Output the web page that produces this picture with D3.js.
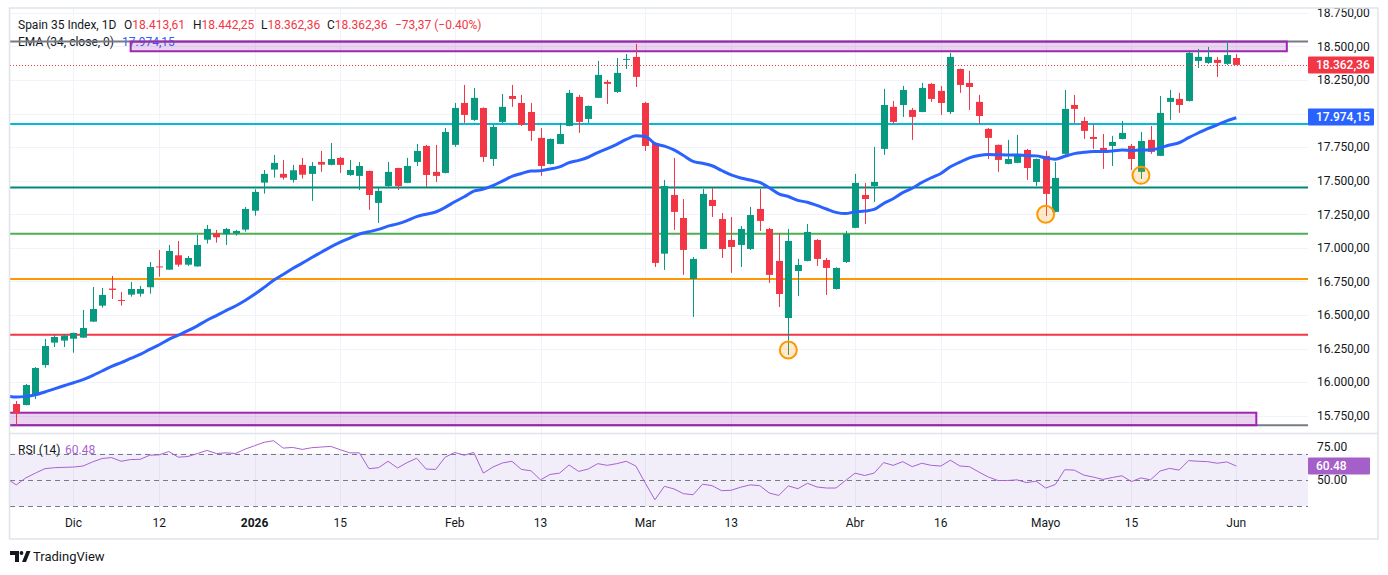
<!DOCTYPE html>
<html>
<head>
<meta charset="utf-8">
<script src="https://cdn.jsdelivr.net/npm/d3@7"></script>
<style>
  body { margin: 0; background: #fff; }
  svg { display: block; font-family: Roboto, "Liberation Sans", sans-serif; }
</style>
</head>
<body>
<svg id="chart"></svg>
<script>
// Spain 35 Index, daily candles (bar 0 = 21 Nov ... bar 128 = 1 Jun)
const opens = [15838,15830,15905,16128,16295,16310,16324,16332,16451,16570,
  16697,16612,16652,16659,16707,16862,16838,16945,16875,16862,
  17061,17109,17102,17106,17136,17277,17486,17583,17551,17506,
  17618,17551,17640,17618,17670,17543,17536,17573,17335,17461,
  17595,17484,17640,17759,17566,17558,17767,18079,17953,18042,
  17662,17938,18131,18079,18012,17819,17625,17774,17908,18124,
  17960,18117,18236,18161,18400,18422,18079,17781,16957,17394,
  17223,16769,16992,17357,17215,17059,17022,16992,17290,17141,
  16903,16478,16828,16903,17059,16910,16694,16895,17149,17394,
  17461,17737,18050,18064,18027,18012,18221,18169,18012,18332,
  18228,18087,17886,17767,17625,17633,17729,17491,17685,17268,
  17700,18064,17945,17826,17744,17759,17811,17759,17566,17804,
  17685,18087,18109,18094,18392,18377,18400,18370,18413.61];
const highs = [15860,15987,16113,16322,16352,16357,16369,16538,16709,16702,
  16791,16672,16746,16717,16895,16985,17022,17052,16940,17096,
  17171,17134,17149,17134,17305,17437,17580,17692,17655,17618,
  17670,17640,17722,17781,17677,17655,17640,17575,17446,17640,
  17597,17670,17774,17767,17767,17893,18079,18213,18191,18045,
  17916,18146,18213,18139,18079,17893,17815,17930,18176,18139,
  18060,18392,18251,18414,18444,18519,18087,17785,17506,17670,
  17364,16932,17439,17446,17260,17230,17163,17305,17439,17149,
  17111,17141,16918,17178,17066,16925,16855,17126,17551,17484,
  17752,18184,18094,18206,18042,18228,18228,18206,18452,18335,
  18318,18139,17893,17770,17804,17841,17737,17665,17722,17640,
  18176,18139,17975,17916,17848,17834,17945,17774,17863,17908,
  18131,18176,18154,18459,18481,18496,18422,18541,18442.25];
const lows = [15681,15828,15875,16108,16262,16262,16220,16330,16449,16555,
  16620,16570,16637,16637,16659,16786,16836,16860,16866,16860,
  17032,17039,17022,17091,17121,17240,17404,17523,17508,17486,
  17516,17350,17566,17615,17558,17536,17431,17283,17186,17454,
  17431,17482,17610,17454,17491,17555,17752,17930,17945,17640,
  17610,17930,18050,17908,17796,17536,17620,17772,17905,17856,
  17930,18115,18072,18154,18332,18198,17722,16858,16836,17134,
  16799,16486,16990,17230,16925,16814,16858,16985,17126,16739,
  16560,16203,16642,16900,16866,16650,16690,16888,17147,17178,
  17342,17692,17923,17975,17804,18010,18087,17990,17997,18154,
  18027,17923,17662,17566,17622,17630,17506,17461,17238,17265,
  17685,17930,17811,17737,17588,17610,17808,17580,17513,17700,
  17683,17953,18005,18090,18340,18370,18273,18362,18362.36];
const closes = [15768,15979,16106,16270,16337,16347,16367,16404,16545,16650,
  16687,16605,16694,16694,16858,16855,16977,16875,16925,17022,
  17141,17079,17141,17126,17290,17417,17551,17633,17523,17578,
  17545,17610,17620,17662,17618,17580,17610,17394,17424,17566,
  17461,17610,17722,17543,17536,17863,18042,17990,18117,17677,
  17901,18050,18109,17916,17871,17610,17811,17848,18154,17938,
  18057,18288,18221,18303,18407,18273,17759,16888,17461,17268,
  16985,16918,17402,17312,16992,17007,17141,17245,17201,16799,
  16657,17052,16873,17119,16918,16851,16851,17104,17484,17364,
  17491,18064,17938,18176,17975,18191,18109,18079,18422,18213,
  18198,17982,17819,17655,17662,17700,17595,17662,17402,17521,
  18035,18035,17871,17811,17722,17789,17856,17662,17796,17715,
  18005,18117,18064,18452,18422,18422,18377,18435.73,18362.36];

// RSI(14) values read per bar, plus the value of the hidden bar just left of bar 0
const rsiPrev = 50.8;
const rsi = [46.2,51.5,55.1,58.5,59.2,59.5,59.7,60.5,63.6,66.2,
  66.9,64.1,65.4,65.6,68.7,69.0,71.5,67.2,67.7,70.0,
  72.3,70.0,70.5,70.0,73.3,75.9,78.5,79.7,74.1,74.6,
  73.1,74.4,74.9,75.4,72.8,70.5,70.5,58.5,59.2,64.1,
  59.0,63.1,66.4,58.2,57.9,67.2,70.8,68.7,70.8,55.1,
  59.7,62.8,64.1,57.9,56.9,50.0,54.1,55.1,61.3,56.4,
  58.2,62.3,61.0,62.3,64.1,60.5,47.4,34.9,45.1,43.1,
  39.5,38.7,46.7,45.6,41.8,42.1,44.4,46.2,45.6,40.0,
  38.2,45.4,43.3,47.4,44.6,43.8,43.8,49.5,55.1,53.3,
  55.1,63.1,61.0,63.8,60.0,62.6,61.0,60.5,64.9,60.5,
  60.0,55.9,52.1,49.5,49.5,50.0,47.9,49.0,43.8,46.4,
  57.7,57.4,53.6,52.1,50.3,51.8,53.1,48.7,51.5,50.0,
  56.7,58.7,57.4,64.6,64.1,63.8,62.6,63.6,60.48];

// EMA(34, close): value on the hidden bar just before bar 0, and last printed value
const emaSeed = 15897;
const emaLast = 17974.15;

// drawn levels
const levelPrices = [17923, 17449, 17106, 16769, 16354];
const levelColors = ["#00bcd4", "#00897b", "#4caf50", "#ff9800", "#f23645"];
const grayLinePrices = [18536, 15680];
// zones: price top / bottom, first bar, last bar
const zoneTops = [18536, 15773];
const zoneBottoms = [18464, 15680];
const zoneStartBar = [12, -1];
const zoneEndBar = [133.3, 130.1];
// circled lows
const markBars = [81, 108, 118];
const markPrices = [16240, 17250, 17540];

const priceTicks = [15750,16000,16250,16500,16750,17000,17250,17500,17750,18000,18250,18500,18750];
const rsiTicks = [75, 50];
const rsiLevels = [70, 50, 30];
const timeTickBars = [6, 15, 25, 34, 46, 55, 66, 75, 88, 97, 108, 117, 128];
const timeTickLabels = ["Dic","12","2026","15","Feb","13","Mar","13","Abr","16","Mayo","15","Jun"];

const W = 1388, H = 575;
const pL = 10, pR = 1308, pT = 8, mainBottom = 433, rsiTop = 434, rsiBottom = 512, frameBottom = 539;

const svg = d3.select("#chart").attr("width", W).attr("height", H);
const loc = d3.formatLocale({decimal: ",", thousands: ".", grouping: [3], currency: ["", ""]});
const fmt = loc.format(",.2f");

const x = d3.scaleLinear().domain([0, 128]).range([16.3, 1236.3]);
const y = d3.scaleLinear().domain([15622, 18786]).range([mainBottom, pT]);
const yr = d3.scaleLinear().domain([25.6, 84.8]).range([rsiBottom, rsiTop]);

const defs = svg.append("defs");
defs.append("clipPath").attr("id", "clipMain").append("rect")
  .attr("x", pL).attr("y", pT).attr("width", pR - pL).attr("height", mainBottom - pT);
defs.append("clipPath").attr("id", "clipRsi").append("rect")
  .attr("x", pL).attr("y", rsiTop).attr("width", pR - pL).attr("height", rsiBottom - rsiTop);

// grid
const grid = svg.append("g").attr("stroke", "#f0f3fa").attr("stroke-width", 1);
grid.selectAll("line.h").data(priceTicks).enter().append("line")
  .attr("x1", pL).attr("x2", pR)
  .attr("y1", d => Math.round(y(d)) + 0.5).attr("y2", d => Math.round(y(d)) + 0.5);
grid.selectAll("line.v").data(timeTickBars).enter().append("line")
  .attr("x1", d => Math.round(x(d)) + 0.5).attr("x2", d => Math.round(x(d)) + 0.5)
  .attr("y1", pT).attr("y2", rsiBottom);

// legend (under the drawings)
const legend = svg.append("g").attr("font-size", 12).attr("fill", "#131722");
legend.append("text").attr("x", 18).attr("y", 29).text("Spain 35 Index, 1D");
const last = closes.length - 1;
const chg = closes[last] - closes[last - 1];
const ohlc = [["O", opens[last], 124], ["H", highs[last], 193], ["L", lows[last], 261], ["C", closes[last], 327]];
ohlc.forEach(d => {
  const t = legend.append("text").attr("x", d[2]).attr("y", 29);
  t.append("tspan").text(d[0]);
  t.append("tspan").attr("fill", "#f23645").text(fmt(d[1]));
});
legend.append("text").attr("x", 395).attr("y", 29).attr("fill", "#f23645")
  .text(fmt(chg).replace("-", "−") + " (" + (chg / closes[last - 1] * 100).toFixed(2).replace("-", "−") + "%)");
legend.append("text").attr("x", 18).attr("y", 46).text("EMA (34, close, 0)");
legend.append("text").attr("x", 122).attr("y", 46).attr("fill", "#2962ff").text(fmt(emaLast));

const main = svg.append("g").attr("clip-path", "url(#clipMain)");

// gray horizontal lines
main.selectAll("line.gray").data(grayLinePrices).enter().append("line")
  .attr("x1", pL).attr("x2", pR)
  .attr("y1", d => y(d)).attr("y2", d => y(d))
  .attr("stroke", "#787b86").attr("stroke-width", 2);

// colored levels
main.selectAll("line.level").data(levelPrices).enter().append("line")
  .attr("x1", pL).attr("x2", pR)
  .attr("y1", d => y(d)).attr("y2", d => y(d))
  .attr("stroke", (d, i) => levelColors[i]).attr("stroke-width", 2);

// zones
main.selectAll("rect.zone").data(zoneTops).enter().append("rect")
  .attr("x", (d, i) => x(zoneStartBar[i]))
  .attr("y", d => y(d))
  .attr("width", (d, i) => x(zoneEndBar[i]) - x(zoneStartBar[i]))
  .attr("height", (d, i) => y(zoneBottoms[i]) - y(d))
  .attr("fill", "rgba(156,39,176,0.2)")
  .attr("stroke", "#9c27b0").attr("stroke-width", 2);

// candles
const candles = main.append("g").selectAll("g").data(closes).enter().append("g")
  .attr("fill", (d, i) => d >= opens[i] ? "#089981" : "#f23645")
  .attr("stroke", (d, i) => d >= opens[i] ? "#089981" : "#f23645");
candles.append("line")
  .attr("x1", (d, i) => Math.round(x(i)) + 0.5).attr("x2", (d, i) => Math.round(x(i)) + 0.5)
  .attr("y1", (d, i) => y(highs[i])).attr("y2", (d, i) => y(lows[i]))
  .attr("stroke-width", 1);
candles.append("rect")
  .attr("x", (d, i) => Math.round(x(i)) - 3)
  .attr("width", 7)
  .attr("y", (d, i) => y(Math.max(d, opens[i])))
  .attr("height", (d, i) => Math.max(1, Math.abs(y(d) - y(opens[i]))))
  .attr("stroke", "none");

// EMA(34), starting from the hidden bar -1
const k = 2 / 35;
let e = emaSeed;
const ema = [emaSeed].concat(closes.map(c => (e = e + k * (c - e))));
main.append("path").datum(ema)
  .attr("fill", "none").attr("stroke", "#2962ff").attr("stroke-width", 3)
  .attr("stroke-linejoin", "round")
  .attr("d", d3.line().x((d, i) => x(i - 1)).y(d => y(d)).curve(d3.curveMonotoneX));

// last price dotted line
main.append("line")
  .attr("x1", pL).attr("x2", pR)
  .attr("y1", Math.round(y(closes[last])) + 0.5).attr("y2", Math.round(y(closes[last])) + 0.5)
  .attr("stroke", "#f23645").attr("stroke-width", 1).attr("stroke-dasharray", "1,2");

// circled lows
main.selectAll("circle.mark").data(markBars).enter().append("circle")
  .attr("cx", d => x(d)).attr("cy", (d, i) => y(markPrices[i]))
  .attr("r", 8.5)
  .attr("fill", "rgba(255,152,0,0.2)").attr("stroke", "#ff9800").attr("stroke-width", 2);

// price axis
const axisG = svg.append("g").attr("font-size", 12).attr("fill", "#131722");
axisG.selectAll("text").data(priceTicks.filter(d => y(d) > 10)).enter().append("text")
  .attr("x", 1317).attr("y", d => y(d)).attr("dy", "0.35em").text(d => fmt(d));

function priceTag(color, label, yPos) {
  svg.append("rect").attr("x", 1308).attr("y", yPos - 8.5).attr("width", 66).attr("height", 17)
    .attr("rx", 1).attr("fill", color);
  svg.append("text").attr("x", 1316).attr("y", yPos).attr("dy", "0.35em")
    .attr("font-size", 12).attr("fill", "#fff").attr("font-weight", 500).text(label);
}
priceTag("#f23645", fmt(closes[last]), y(closes[last]));
priceTag("#2962ff", fmt(emaLast), y(emaLast));

// RSI pane
const rsiG = svg.append("g").attr("clip-path", "url(#clipRsi)");
rsiG.append("rect").attr("x", pL).attr("width", pR - pL)
  .attr("y", yr(70)).attr("height", yr(30) - yr(70))
  .attr("fill", "rgba(126,87,194,0.1)");
rsiG.selectAll("line.rl").data(rsiLevels).enter().append("line")
  .attr("x1", pL).attr("x2", pR)
  .attr("y1", d => Math.round(yr(d)) + 0.5).attr("y2", d => Math.round(yr(d)) + 0.5)
  .attr("stroke", "#787b86").attr("stroke-width", 1).attr("stroke-dasharray", "5,4");
rsiG.append("path").datum([rsiPrev].concat(rsi))
  .attr("fill", "none").attr("stroke", "#a862d3").attr("stroke-width", 1)
  .attr("d", d3.line().x((d, i) => x(i - 1)).y(d => yr(d)));

svg.append("text").attr("x", 18).attr("y", 454).attr("font-size", 12).attr("fill", "#131722").text("RSI (14)");
svg.append("text").attr("x", 65).attr("y", 454).attr("font-size", 12).attr("fill", "#a862d3").text(rsi[last].toFixed(2));

svg.append("g").attr("font-size", 12).attr("fill", "#131722")
  .selectAll("text").data(rsiTicks).enter().append("text")
  .attr("x", 1317).attr("y", d => yr(d)).attr("dy", "0.35em").text(d => d.toFixed(2));
svg.append("rect").attr("x", 1308).attr("y", yr(rsi[last]) - 8.5).attr("width", 62).attr("height", 17)
  .attr("rx", 1).attr("fill", "#a55fc9");
svg.append("text").attr("x", 1316).attr("y", yr(rsi[last])).attr("dy", "0.35em")
  .attr("font-size", 12).attr("fill", "#fff").attr("font-weight", 500).text(rsi[last].toFixed(2));

// time axis
svg.append("g").attr("font-size", 12).attr("fill", "#131722").attr("text-anchor", "middle")
  .selectAll("text").data(timeTickBars).enter().append("text")
  .attr("x", d => x(d)).attr("y", 527)
  .attr("font-weight", (d, i) => timeTickLabels[i] === "2026" ? 700 : 400)
  .text((d, i) => timeTickLabels[i]);

// frame and pane separator
svg.append("line").attr("x1", pL).attr("x2", 1378).attr("y1", 433.5).attr("y2", 433.5)
  .attr("stroke", "#e0e3eb").attr("stroke-width", 1.5);
svg.append("rect").attr("x", 9.5).attr("y", 8).attr("width", 1368.5).attr("height", frameBottom - 8)
  .attr("fill", "none").attr("stroke", "#e0e3eb").attr("stroke-width", 1.5);

// TradingView logo
const logo = svg.append("g").attr("fill", "#131722");
logo.append("path").attr("d", "M10,551 H19 V562 H15 V555 H10 Z");
logo.append("circle").attr("cx", 21.5).attr("cy", 553).attr("r", 1.9);
logo.append("path").attr("d", "M22,562 L26.5,551 H30.5 L26,562 Z");
svg.append("text").attr("x", 33).attr("y", 561).attr("font-size", 13).attr("fill", "#131722").text("TradingView");
</script>
</body>
</html>
